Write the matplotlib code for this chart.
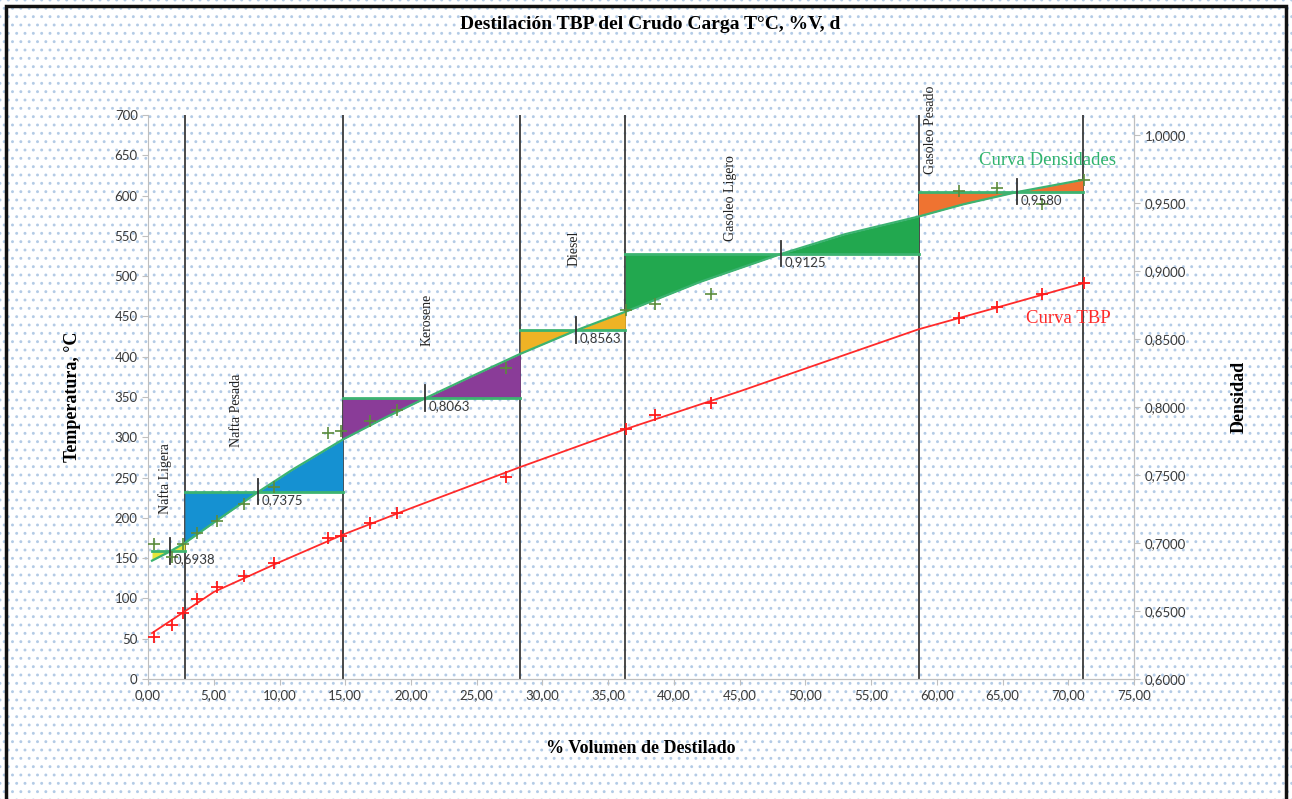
import numpy as np
import matplotlib
matplotlib.use("Agg")
import matplotlib.pyplot as plt
from matplotlib.patches import Rectangle
from matplotlib.ticker import FuncFormatter, MultipleLocator

# puntos experimentales (% volumen destilado)
vol = [0.46, 1.85, 2.66, 3.73, 5.25, 7.30, 9.55, 13.69, 14.65, 16.90, 18.94,
       27.25, 36.35, 38.56, 42.85, 61.65, 64.60, 68.00, 71.15]
tbp = [52, 67, 82, 99, 114, 128, 144, 175, 177, 194, 206,
       251, 310, 328, 343, 448, 462, 478, 491]
dens = [0.699, 0.690, 0.699, 0.707, 0.716, 0.729, 0.741, 0.781, 0.782, 0.790, 0.798,
        0.829, 0.871, 0.876, 0.883, 0.959, 0.961, 0.949, 0.967]

# curvas ajustadas
tbp_fit_x = [0.3, 2.8, 5, 10, 14.8, 20, 28.3, 36.3, 45, 58.6, 65, 71.1]
tbp_fit_t = [57, 84, 108, 145, 179, 212, 263, 310, 357, 434, 463, 491]
dens_fit_x = [0.3, 1.67, 2.8, 5, 8.37, 11, 14.8, 18, 21.06, 24.5, 28.3, 32.55,
              36.3, 42, 48.14, 53, 58.6, 62, 66.08, 71.1]
dens_fit_d = [0.687, 0.6938, 0.700, 0.715, 0.7375, 0.754, 0.776, 0.792, 0.8063, 0.822,
              0.839, 0.8563, 0.870, 0.892, 0.9125, 0.927, 0.940, 0.949, 0.958, 0.967]

# cortes
cortes = ["Nafta Ligera", "Nafta Pesada", "Kerosene", "Diesel", "Gasoleo Ligero", "Gasoleo Pesado"]
corte_ini = [0.3, 2.8, 14.8, 28.3, 36.3, 58.6]
corte_fin = [2.8, 14.8, 28.3, 36.3, 58.6, 71.1]
dens_media = [0.6938, 0.7375, 0.8063, 0.8563, 0.9125, 0.9580]
x_media = [1.67, 8.37, 21.06, 32.55, 48.14, 66.08]
colores = ["#e6e63a", "#1591d2", "#8a3c98", "#efb325", "#22a84f", "#ef7331"]
pos_nombre = [(1.3, 249), (6.7, 334), (21.2, 446), (32.4, 535), (44.3, 597), (59.5, 682)]

serif = "Liberation Serif"
sans = "Lato"
gris = "#3a3a3a"

fig = plt.figure(figsize=(12.92, 7.99), dpi=100)
plt.rcParams["hatch.linewidth"] = 0.9
fondo = Rectangle((0, 0), 1, 1, transform=fig.transFigure, facecolor="white",
                  edgecolor="#b3cbe6", hatch="..", linewidth=0, zorder=-10)
fig.patches.append(fondo)
marco = Rectangle((0.005, -0.05), 0.99, 1.043, transform=fig.transFigure, fill=False,
                  edgecolor="#111111", linewidth=2.5, zorder=10)
fig.patches.append(marco)

ax = fig.add_axes([0.1146, 0.1502, 0.7632, 0.7059])
ax.set_facecolor("none")
ax2 = ax.twinx()
ax2.set_facecolor("none")

ax.set_xlim(0, 75)
ax.set_ylim(0, 700)
ax2.set_ylim(0.6, 1.0147)

# curva TBP
ax.plot(tbp_fit_x, tbp_fit_t, color="#ff2a2a", lw=1.3, zorder=3)
ax.plot(vol, tbp, ls="none", marker="+", ms=8, mew=1.3, color="#ff1a1a", zorder=4)

# lineas de corte
for xf in corte_fin:
    ax.axvline(xf, color="#3a3a3a", lw=1.3, zorder=2)

for nombre, (xn, yn) in zip(cortes, pos_nombre):
    ax.text(xn, yn, nombre, rotation=90, ha="center", va="center", fontsize=10,
            family=serif, color="#222222", clip_on=False)

# densidades por corte
dfx = np.array(dens_fit_x)
dfd = np.array(dens_fit_d)
for x0, x1, dm, xm, c in zip(corte_ini, corte_fin, dens_media, x_media, colores):
    sel = (dfx >= x0) & (dfx <= x1)
    ax2.fill_between(dfx[sel], dfd[sel], dm, color=c, lw=0, interpolate=True, zorder=2)
    ax2.plot([x0, x1], [dm, dm], color="#3cb371", lw=2, zorder=3)
    ax2.plot([xm, xm], [dm - 0.009, dm + 0.0095], color="#333333", lw=1.3, zorder=5)
    ax2.text(xm + 0.3, dm - 0.006, f"{dm:.4f}".replace(".", ","), ha="left", va="center",
             fontsize=9.5, family=sans, color=gris, zorder=6)

ax2.plot(dens_fit_x, dens_fit_d, color="#3cb371", lw=1.6, zorder=4)
ax2.plot(vol, dens, ls="none", marker="+", ms=8, mew=1.2, color="#5b8c3c", zorder=5)

ax.text(68.4, 644, "Curva Densidades", ha="center", va="center", fontsize=13.5,
        family=serif, color="#2fb36e")
ax.text(70.0, 448, "Curva TBP", ha="center", va="center", fontsize=13.5,
        family=serif, color="#ff2a2a")

# ejes
ax.xaxis.set_major_locator(MultipleLocator(5))
ax.yaxis.set_major_locator(MultipleLocator(50))
ax2.yaxis.set_major_locator(MultipleLocator(0.05))
ax.xaxis.set_major_formatter(FuncFormatter(lambda v, p: f"{v:.2f}".replace(".", ",")))
ax2.yaxis.set_major_formatter(FuncFormatter(lambda v, p: f"{v:.4f}".replace(".", ",")))

for a in (ax, ax2):
    for s in a.spines.values():
        s.set_color("#bfbfbf")
    a.spines["top"].set_visible(False)
    a.tick_params(colors="#bfbfbf", labelcolor=gris, labelsize=9.5, length=4)
    for lab in a.get_xticklabels() + a.get_yticklabels():
        lab.set_family(sans)
ax2.spines["left"].set_visible(False)

ax.set_xlabel("% Volumen de Destilado", family=serif, fontsize=13, weight="bold",
              labelpad=28)
ax.set_ylabel("Temperatura, °C", family=serif, fontsize=13, weight="bold", labelpad=24)
ax2.set_ylabel("Densidad", family=serif, fontsize=13, weight="bold", labelpad=32)
fig.text(0.503, 0.969, "Destilación TBP del Crudo Carga T°C, %V, d", ha="center",
         va="center", family=serif, fontsize=14, weight="bold")

fig.savefig("out.png", dpi=100)
